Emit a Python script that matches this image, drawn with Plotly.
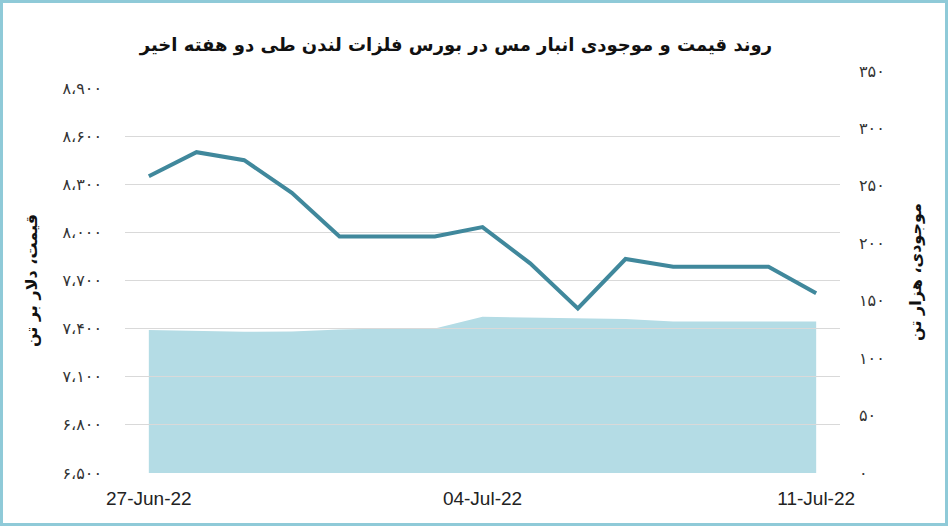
import plotly.graph_objects as go

# daily series, 27 Jun - 11 Jul 2022
dates = ["27-Jun-22", "28-Jun-22", "29-Jun-22", "30-Jun-22", "01-Jul-22",
         "02-Jul-22", "03-Jul-22", "04-Jul-22", "05-Jul-22", "06-Jul-22",
         "07-Jul-22", "08-Jul-22", "09-Jul-22", "10-Jul-22", "11-Jul-22"]
price = [8350, 8500, 8450, 8247, 7975, 7975, 7975, 8033, 7807, 7526,
         7834, 7786, 7786, 7786, 7620]
stocks = [124.5, 123.8, 123, 123.3, 125, 125.9, 125.9, 136, 135.5, 134.9,
          134, 132, 132, 132, 132]

shown_dates = ["27-Jun-22", "04-Jul-22", "11-Jul-22"]
price_ticks = [6500, 6800, 7100, 7400, 7700, 8000, 8300, 8600, 8900]
stock_ticks = [0, 50, 100, 150, 200, 250, 300, 350]

FA = str.maketrans("0123456789", "۰۱۲۳۴۵۶۷۸۹")


def fa_num(n, sep=False):
    s = f"{n:,}" if sep else str(n)
    return s.replace(",", "،").translate(FA)


title = "روند قیمت و موجودی انبار مس در بورس فلزات لندن طی دو هفته اخیر"
price_title = "قیمت، دلار بر تن"
stock_title = "موجودی، هزار تن"

fig = go.Figure()
# stocks on y (right), drawn first so the price grid and line sit on top
fig.add_trace(go.Scatter(
    x=dates, y=stocks, yaxis="y", mode="lines",
    line=dict(width=0, color="#b4dce5"), fill="tozeroy",
    fillcolor="#b4dce5", hoverinfo="skip",
))
fig.add_trace(go.Scatter(
    x=dates, y=price, yaxis="y2", mode="lines",
    line=dict(width=4, color="#40889c"),
))

W, H = 948, 526
ml, mr, mt, mb = 125, 108, 71, 53
pw, ph = W - ml - mr, H - mt - mb
# the price scale stops lower than the stock scale (8,900 sits below 350)
price_top = (473 - 88) / (473 - 71)

fig.update_layout(
    width=W, height=H,
    margin=dict(l=ml, r=mr, t=mt, b=mb),
    paper_bgcolor="white", plot_bgcolor="rgba(0,0,0,0)",
    showlegend=False,
    font=dict(family="Liberation Sans Narrow, Liberation Sans, DejaVu Sans", color="#222", size=15),
    title=dict(text="<b>" + title + "</b>", x=0.481, xanchor="center", y=0.915, yanchor="middle",
               font=dict(family="DejaVu Sans", size=18, color="#111")),
    xaxis=dict(
        type="category", range=[-0.5, len(dates) - 0.5],
        tickvals=shown_dates, ticktext=shown_dates,
        showgrid=False, showline=False, ticks="",
        tickfont=dict(size=19, color="#222"), ticklabelstandoff=12,
    ),
    yaxis=dict(
        domain=[0, 1],
        range=[0, 350], tickvals=stock_ticks,
        ticktext=[fa_num(v) for v in stock_ticks],
        side="right", showgrid=False, zeroline=False,
        tickfont=dict(family="DejaVu Sans", size=16, color="#333"),
        ticklabelstandoff=18,
        title=dict(text="<b>" + stock_title + "</b>", standoff=26,
                   font=dict(family="DejaVu Sans", size=16, color="#111")),
    ),
    yaxis2=dict(
        domain=[0, price_top], anchor="x", side="left",
        range=[6500, 8900], tickvals=price_ticks,
        ticktext=[fa_num(v, True) for v in price_ticks],
        showgrid=True, gridcolor="#d9d9d9", gridwidth=1, zeroline=False,
        tickfont=dict(family="DejaVu Sans", size=16, color="#333"),
        ticklabelstandoff=22,
        title=dict(text="<b>" + price_title + "</b>", standoff=20,
                   font=dict(family="DejaVu Sans", size=16, color="#111")),
    ),
)

# light blue frame round the whole picture
fig.add_shape(
    type="rect", xref="paper", yref="paper",
    x0=(1.5 - ml) / pw, x1=(W - 1.5 - ml) / pw,
    y0=-(mb - 1.5) / ph, y1=1 + (mt - 1.5) / ph,
    line=dict(color="#8fcad8", width=3), layer="above",
)

fig.write_html("out.html", config={"displayModeBar": False},
               post_script="document.body.style.margin='0';")
